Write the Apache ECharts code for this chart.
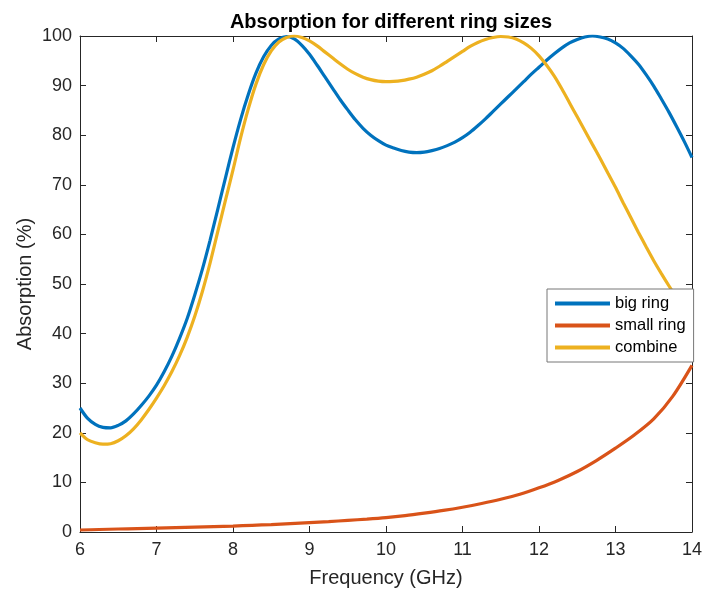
<!DOCTYPE html>
<html>
<head>
<meta charset="utf-8">
<script src="https://cdn.jsdelivr.net/npm/echarts@6/dist/echarts.min.js"></script>
<style>html,body{margin:0;padding:0;background:#fff}#c{width:705px;height:594px}</style>
</head>
<body>
<div id="c"></div>
<script>
const seriesNames = ['big ring', 'small ring', 'combine'];
const freqs = [6.0,6.1,6.2,6.3,6.4,6.5,6.6,6.7,6.8,6.9,7.0,7.1,7.2,7.3,7.4,7.5,7.6,7.7,7.8,7.9,8.0,8.1,8.2,8.3,8.4,8.5,8.6,8.7,8.8,8.9,9.0,9.1,9.2,9.3,9.4,9.5,9.6,9.7,9.8,9.9,10.0,10.1,10.2,10.3,10.4,10.5,10.6,10.7,10.8,10.9,11.0,11.1,11.2,11.3,11.4,11.5,11.6,11.7,11.8,11.9,12.0,12.1,12.2,12.3,12.4,12.5,12.6,12.7,12.8,12.9,13.0,13.1,13.2,13.3,13.4,13.5,13.6,13.7,13.8,13.9,14.0];
const bigRing = [25,22.9,21.7,21.1,21.0,21.5,22.4,23.8,25.5,27.4,29.6,32.3,35.4,39,43,47.8,53,58.8,65,71.3,77.5,83.2,88.2,92.5,95.8,98.1,99.4,99.9,99.4,98.1,96.3,94.1,91.8,89.5,87.2,85.1,83.1,81.4,80,78.9,78,77.4,76.9,76.6,76.5,76.6,76.9,77.3,77.9,78.6,79.5,80.6,81.9,83.3,84.8,86.3,87.8,89.3,90.8,92.3,93.7,95.1,96.4,97.6,98.6,99.3,99.8,100,99.8,99.4,98.6,97.5,96,94.3,92.2,89.9,87.3,84.6,81.7,78.7,75.5];
const combine = [20,18.6,18.0,17.7,17.8,18.4,19.4,20.8,22.6,24.7,27,29.5,32.3,35.5,39.2,43.5,48.5,54.2,60.5,66.8,73,79.5,85.3,90.3,94.2,97,98.8,99.7,100,99.7,99,98,96.8,95.6,94.4,93.3,92.4,91.7,91.2,90.9,90.8,90.85,91,91.3,91.7,92.3,93,93.9,94.9,95.9,96.9,97.9,98.7,99.3,99.7,99.9,99.8,99.4,98.6,97.5,96,94.1,91.9,89.3,86.5,83.7,80.9,78.1,75.3,72.4,69.5,66.4,63.4,60.4,57.5,54.7,52.1,49.6,47.1,44.8,42.5];
const smallFreqs = [6,6.25,6.5,6.75,7,7.25,7.5,7.75,8,8.25,8.5,8.75,9,9.25,9.5,9.75,10,10.25,10.5,10.75,11,11.25,11.5,11.75,12,12.25,12.5,12.75,13,13.25,13.5,13.75,14];
const smallRing = [0.4,0.5,0.6,0.7,0.8,0.9,1.0,1.1,1.2,1.35,1.5,1.7,1.9,2.1,2.35,2.6,2.9,3.3,3.8,4.35,5.0,5.75,6.6,7.6,8.9,10.4,12.2,14.4,16.9,19.6,22.8,27.4,33.6];
const colors = ['#0072BD', '#D95319', '#EDB120'];

const pair = (xs, ys) => xs.map((x, i) => [x, ys[i]]);
const font = 'Liberation Sans, Arial, Helvetica, sans-serif';
const axCol = '#262626';
const chart = echarts.init(document.getElementById('c'));
const baseAxis = {
  axisLine: {show: true, onZero: false, lineStyle: {color: axCol, width: 1}},
  axisTick: {show: true, inside: true, length: 6, lineStyle: {color: axCol}},
  splitLine: {show: false}
};
chart.setOption({
  animation: false,
  backgroundColor: '#fff',
  title: {
    text: 'Absorption for different ring sizes',
    left: 386, top: 7, textAlign: 'center',
    textStyle: {fontFamily: font, fontSize: 20, fontWeight: 'bold', color: '#000'}
  },
  grid: {left: 80, right: 11, top: 36, bottom: 62},
  legend: {
    orient: 'vertical', left: 547, top: 289,
    data: seriesNames,
    icon: 'rect', itemWidth: 55, itemHeight: 4, itemGap: 5,
    padding: [6, 8, 6, 8],
    backgroundColor: '#fff', borderColor: '#777', borderWidth: 1, borderRadius: 0,
    textStyle: {fontFamily: font, fontSize: 16.5, color: '#000'}
  },
  xAxis: [
    Object.assign({}, baseAxis, {
      type: 'value', min: 6, max: 14, interval: 1, position: 'bottom',
      name: 'Frequency (GHz)', nameLocation: 'middle', nameGap: 36, nameMoveOverlap: false,
      nameTextStyle: {fontFamily: font, fontSize: 20, color: axCol},
      axisLabel: {fontFamily: font, fontSize: 18, color: axCol, margin: 9}
    }),
    Object.assign({}, baseAxis, {
      type: 'value', min: 6, max: 14, interval: 1, position: 'top',
      axisLabel: {show: false}
    })
  ],
  yAxis: [
    Object.assign({}, baseAxis, {
      type: 'value', min: 0, max: 100, interval: 10, position: 'left',
      name: 'Absorption (%)', nameLocation: 'middle', nameGap: 45, nameMoveOverlap: false,
      nameTextStyle: {fontFamily: font, fontSize: 20, color: axCol},
      axisLabel: {fontFamily: font, fontSize: 18, color: axCol, margin: 8}
    }),
    Object.assign({}, baseAxis, {
      type: 'value', min: 0, max: 100, interval: 10, position: 'right',
      axisLabel: {show: false}
    })
  ],
  series: [
    {name: seriesNames[0], type: 'line', data: pair(freqs, bigRing), smooth: 0.3, showSymbol: false, lineStyle: {width: 3.2, color: colors[0]}, itemStyle: {color: colors[0]}, z: 3},
    {name: seriesNames[1], type: 'line', data: pair(smallFreqs, smallRing), smooth: 0.3, showSymbol: false, lineStyle: {width: 3.2, color: colors[1]}, itemStyle: {color: colors[1]}, z: 3},
    {name: seriesNames[2], type: 'line', data: pair(freqs, combine), smooth: 0.3, showSymbol: false, lineStyle: {width: 3.2, color: colors[2]}, itemStyle: {color: colors[2]}, z: 3}
  ]
});
</script>
</body>
</html>
